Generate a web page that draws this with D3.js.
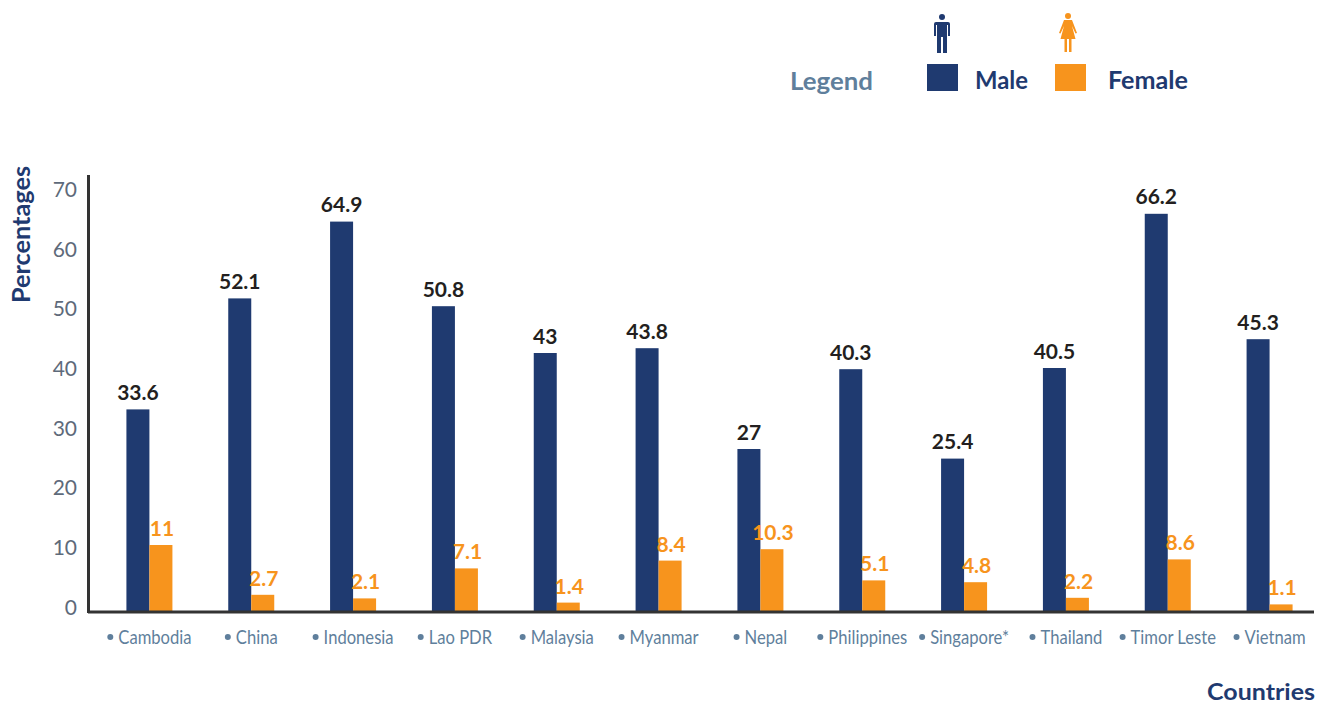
<!DOCTYPE html>
<html>
<head>
<meta charset="utf-8">
<script src="https://cdn.jsdelivr.net/npm/d3@7"></script>
<style>
  html, body { margin: 0; background: #fff; overflow: hidden; }
  text { font-family: Lato, "Open Sans", sans-serif; }
  .axis path, .axis line { display: none; }
</style>
</head>
<body>
<svg id="svg" width="1318" height="705"></svg>
<script>
const countries = ["Cambodia", "China", "Indonesia", "Lao PDR", "Malaysia", "Myanmar", "Nepal", "Philippines", "Singapore*", "Thailand", "Timor Leste", "Vietnam"];
const male = [33.6, 52.1, 64.9, 50.8, 43, 43.8, 27, 40.3, 25.4, 40.5, 66.2, 45.3];
const female = [11, 2.7, 2.1, 7.1, 1.4, 8.4, 10.3, 5.1, 4.8, 2.2, 8.6, 1.1];
const yTicks = [0, 10, 20, 30, 40, 50, 60, 70];

const navy = "#1f3a70", orange = "#f7941d", slate = "#5f7f9c", grey = "#5e6a7a", ink = "#231f20";

var svg = d3.select("#svg");

const barW = 23;
// 12 groups, step is about 102px
var x = d3.scaleBand().domain(countries).range([98.5, 1320.5]).paddingInner(0).paddingOuter(0);
var y = d3.scaleLinear().domain([0, 70]).range([611, 191]);
// tick labels sit a little tighter than the bars
var yLabels = d3.scaleLinear().domain([0, 70]).range([607, 189]);

// y tick labels
var yAxis = d3.axisLeft(yLabels).tickValues(yTicks).tickSize(0).tickPadding(0);
svg.append("g")
    .attr("class", "axis")
    .attr("transform", "translate(77,0)")
    .call(yAxis)
    .call(g => g.selectAll("text")
        .attr("dy", "0.35em")
        .style("font-size", "21px")
        .style("font-family", "Lato")
        .attr("fill", grey));

// x labels, squeezed because the original face is narrower
const squeeze = 0.83, bulletGap = 11;
var xAxis = d3.axisBottom(x).tickSize(0).tickPadding(0);
svg.append("g")
    .attr("class", "axis")
    .attr("transform", "translate(0,630)")
    .call(xAxis)
    .call(g => g.selectAll(".tick").each(function() {
        var tick = d3.select(this);
        var label = tick.select("text")
            .style("font-size", "20px")
            .style("font-family", "Lato")
            .attr("fill", slate);
        var w = label.node().getComputedTextLength() * squeeze;
        var left = -(w + bulletGap) / 2;
        label.attr("text-anchor", "start")
            .attr("x", left + bulletGap)
            .attr("textLength", w)
            .attr("lengthAdjust", "spacingAndGlyphs");
        tick.append("circle")
            .attr("cx", left + 3)
            .attr("cy", 7)
            .attr("r", 3)
            .attr("fill", slate);
    }));

function bars(values, color, dx, labelColor, labelDx, labelGap) {
    var g = svg.append("g");
    g.selectAll("rect")
        .data(values)
        .join("rect")
        .attr("x", (d, i) => x(countries[i]) + x.bandwidth() / 2 + dx)
        .attr("y", d => y(d))
        .attr("width", barW)
        .attr("height", d => y(0) - y(d))
        .attr("fill", color);
    g.selectAll("text")
        .data(values)
        .join("text")
        .attr("x", (d, i) => x(countries[i]) + x.bandwidth() / 2 + dx + barW / 2 + labelDx)
        .attr("y", d => y(d) - labelGap)
        .attr("text-anchor", "middle")
        .style("font-size", "21px")
        .style("font-weight", 700)
        .attr("fill", labelColor)
        .text(d => d);
}
bars(male, navy, -barW, ink, 0, 9.5);
bars(female, orange, 0, orange, 1, 9);

// axis lines
svg.append("line").attr("x1", 88.5).attr("x2", 88.5).attr("y1", 175).attr("y2", 613)
    .attr("stroke", "#333").attr("stroke-width", 3);
svg.append("line").attr("x1", 88).attr("x2", 1314).attr("y1", y(0) + 1).attr("y2", y(0) + 1)
    .attr("stroke", "#333").attr("stroke-width", 3);

// axis titles
svg.append("text")
    .attr("transform", "translate(30,234.5) rotate(-90)")
    .attr("text-anchor", "middle")
    .attr("textLength", 137)
    .attr("lengthAdjust", "spacingAndGlyphs")
    .style("font-size", "24px").style("font-weight", 700)
    .attr("fill", navy)
    .text("Percentages");
svg.append("text")
    .attr("x", 1315).attr("y", 700)
    .attr("text-anchor", "end")
    .attr("textLength", 108)
    .attr("lengthAdjust", "spacingAndGlyphs")
    .style("font-size", "23px").style("font-weight", 700)
    .attr("fill", navy)
    .text("Countries");

// legend
var legend = svg.append("g");
function legendText(tx, ty, len, color, label) {
    legend.append("text").attr("x", tx).attr("y", ty)
        .attr("textLength", len)
        .attr("lengthAdjust", "spacingAndGlyphs")
        .style("font-size", "24px").style("font-weight", 700)
        .attr("fill", color).text(label);
}
legendText(790, 90, 83, slate, "Legend");
legend.append("rect").attr("x", 927).attr("y", 64).attr("width", 31).attr("height", 27).attr("fill", navy);
legendText(975, 89, 53, navy, "Male");
legend.append("rect").attr("x", 1055).attr("y", 64).attr("width", 31).attr("height", 27).attr("fill", orange);
legendText(1108, 89, 80, navy, "Female");

// pictograms
var man = legend.append("g").attr("transform", "translate(942,13)").attr("fill", navy);
man.append("circle").attr("cx", 0).attr("cy", 4).attr("r", 3);
man.append("path").attr("d", "M-6,9 Q-8,9 -8,11 L-8,23 L-6,23 L-6,12 L-5,12 L-5,40 L-1,40 L-1,24 L1,24 L1,40 L5,40 L5,12 L6,12 L6,23 L8,23 L8,11 Q8,9 6,9 Z");
var woman = legend.append("g").attr("transform", "translate(1068,13)").attr("fill", orange);
woman.append("circle").attr("cx", 0).attr("cy", 3).attr("r", 3);
woman.append("path").attr("d", "M-4,7 L4,7 L9,20 L7.5,20.5 L4,13 L7.5,26 L3.5,26 L3.5,39 L1,39 L1,26 L-1,26 L-1,39 L-3.5,39 L-3.5,26 L-7.5,26 L-4,13 L-7.5,20.5 L-9,20 Z");
</script>
</body>
</html>
